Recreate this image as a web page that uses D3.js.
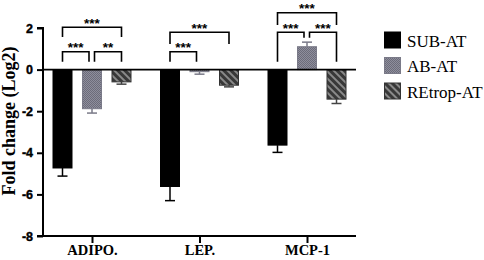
<!DOCTYPE html>
<html><head><meta charset="utf-8">
<script src="https://cdn.jsdelivr.net/npm/d3@7"></script>
<style>body{margin:0;background:#fff}svg{display:block}</style>
</head><body>
<svg id="c" width="484" height="260"></svg>
<script>
const categories = ["ADIPO.", "LEP.", "MCP-1"];
const series = ["SUB-AT", "AB-AT", "REtrop-AT"];
const values = {
  "SUB-AT":    [-4.73, -5.62, -3.63],
  "AB-AT":     [-1.88, -0.1, 1.1],
  "REtrop-AT": [-0.59, -0.75, -1.42]
};
const errors = {
  "SUB-AT":    [0.39, 0.68, 0.35],
  "AB-AT":     [0.21, 0.12, 0.22],
  "REtrop-AT": [0.11, 0.08, 0.21]
};
const yTicks = [2, 0, -2, -4, -6, -8];
// significance: [category index, from series, to series, level, label]
const sig = [
  [0, 0, 1, 1, "***"], [0, 1, 2, 1, "**"], [0, 0, 2, 2, "***"],
  [1, 0, 1, 1, "***"], [1, 0, 2, 2, "***"],
  [2, 0, 1, 1, "***"], [2, 1, 2, 1, "***"], [2, 0, 2, 2, "***"]
];

const svg = d3.select("#c");
const y = d3.scaleLinear().domain([-8, 2]).range([236, 28]);
const x = d3.scalePoint().domain(categories).range([92, 307]);
const xs = d3.scalePoint().domain(series).range([-29.5, 29.5]);
const bw = 19;

const defs = svg.append("defs");
const p1 = defs.append("pattern").attr("id", "chk").attr("patternUnits", "userSpaceOnUse").attr("width", 2).attr("height", 2);
p1.append("rect").attr("width", 2).attr("height", 2).attr("fill", "#8e8e9c");
p1.append("rect").attr("width", 1).attr("height", 1).attr("fill", "#6c6c7a");
p1.append("rect").attr("x", 1).attr("y", 1).attr("width", 1).attr("height", 1).attr("fill", "#6c6c7a");
const p2 = defs.append("pattern").attr("id", "hatch").attr("patternUnits", "userSpaceOnUse").attr("width", 5).attr("height", 5).attr("patternTransform", "rotate(-45)");
p2.append("rect").attr("width", 5).attr("height", 5).attr("fill", "#383838");
p2.append("rect").attr("width", 2).attr("height", 5).attr("fill", "#8a8a8a");

const fills = {"SUB-AT": "#000", "AB-AT": "url(#chk)", "REtrop-AT": "url(#hatch)"};
const strokes = {"SUB-AT": "#000", "AB-AT": "#7a7a88", "REtrop-AT": "#333"};
const errCol = {"SUB-AT": "#000", "AB-AT": "#7a7a88", "REtrop-AT": "#444"};

// bars
series.forEach(s => {
  categories.forEach((c, i) => {
    const v = values[s][i], e = errors[s][i];
    const cx = x(c) + xs(s);
    const y0 = y(0), y1 = y(v);
    const ye = y(v + (v < 0 ? -e : e));
    svg.append("line").attr("x1", cx).attr("x2", cx).attr("y1", y1).attr("y2", ye).attr("stroke", errCol[s]).attr("stroke-width", 1.5);
    svg.append("line").attr("x1", cx - 5).attr("x2", cx + 5).attr("y1", ye).attr("y2", ye).attr("stroke", errCol[s]).attr("stroke-width", 1.5);
    svg.append("rect").attr("x", cx - bw / 2).attr("width", bw)
      .attr("y", Math.min(y0, y1)).attr("height", Math.abs(y1 - y0))
      .attr("fill", fills[s]).attr("stroke", strokes[s]).attr("stroke-width", 1);
  });
});

// zero line
svg.append("line").attr("x1", 43).attr("x2", 356).attr("y1", y(0)).attr("y2", y(0)).attr("stroke", "#000").attr("stroke-width", 1.8);

// axes
const ya = svg.append("g").attr("transform", "translate(43,0)")
  .call(d3.axisLeft(y).tickValues(yTicks).tickSize(6).tickFormat(d3.format("d")));
ya.select(".domain").attr("stroke-width", 2).attr("d", "M-6," + y(2) + "H0V" + y(-8) + "H-6");
ya.selectAll(".tick line").attr("stroke-width", 2);
ya.selectAll("text").attr("font-family", "Liberation Sans, Arial, sans-serif").attr("font-weight", "bold").attr("font-size", 12.5).attr("fill", "#000").attr("stroke", "#000").attr("stroke-width", 0.4).attr("dx", -1);
ya.selectAll(".tick text").text(d => d < 0 ? "-" + Math.abs(d) : d);

const xa = svg.append("g").attr("transform", "translate(0,236)")
  .call(d3.axisBottom(x).tickSize(7));
xa.select(".domain").attr("stroke-width", 2).attr("d", "M43,0H356");
xa.selectAll(".tick line").attr("stroke-width", 2);
xa.selectAll("text").attr("font-family", "Liberation Serif, Times New Roman, serif").attr("font-weight", "bold").attr("font-size", 14.5).attr("fill", "#000").attr("y", 18.5).attr("dy", 0);

// y title
svg.append("text").attr("transform", "translate(15,121) rotate(-90)").attr("text-anchor", "middle")
  .attr("font-family", "Liberation Serif, Times New Roman, serif").attr("font-weight", "bold").attr("font-size", 18).text("Fold change (Log2)");

// significance brackets
const levelY = {"0-1": [51.7, 27.3], "1-1": [51.7, 32.3], "2-1": [32.3, 12.7]};
const legEnd = [37, 44, 25];
sig.forEach(([ci, a, b, lvl, lab]) => {
  const cat = categories[ci];
  const yy = levelY[ci + "-1"][lvl - 1];
  let xa0 = x(cat) + xs(series[a]);
  let xb0 = x(cat) + xs(series[b]);
  let ya0, yb0;
  if (lvl === 2) { ya0 = yb0 = legEnd[ci]; }
  else {
    if (a === 0 && b === 1) { xb0 -= 3; }
    if (a === 1 && b === 2) { xa0 += 2.5; }
    ya0 = (a === 1 && ci === 2) ? 37.7 : 61.7;
    yb0 = (b === 1 && ci === 2) ? 37.7 : 61.7;
  }
  svg.append("path").attr("d", `M${xa0},${ya0}V${yy}H${xb0}V${yb0}`).attr("fill", "none").attr("stroke", "#000").attr("stroke-width", 1.6);
  svg.append("text").attr("x", (xa0 + xb0) / 2).attr("y", yy + 0.5).attr("text-anchor", "middle")
    .attr("font-family", "Liberation Sans, Arial, sans-serif").attr("font-weight", "bold").attr("font-size", 13.5).attr("fill", "#000").text(lab);
});

// legend
const lg = svg.append("g");
series.forEach((s, i) => {
  const yy = 32 + i * 25.5;
  lg.append("rect").attr("x", 384.5).attr("y", yy).attr("width", 16).attr("height", 16).attr("fill", fills[s]).attr("stroke", strokes[s]).attr("stroke-width", 1);
  lg.append("text").attr("x", 407).attr("y", yy + 14.5).attr("font-family", "Liberation Serif, Times New Roman, serif").attr("font-size", 17).attr("fill", "#000").text(s);
});
</script>
</body></html>
